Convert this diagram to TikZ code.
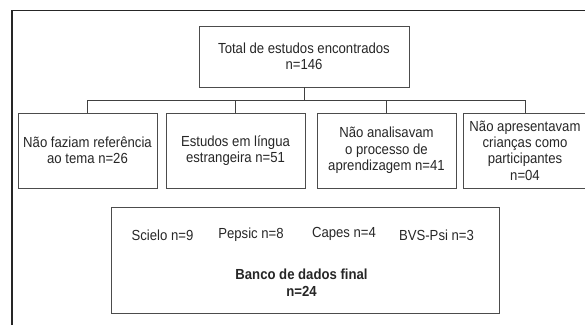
\documentclass[tikz,border=0pt]{standalone}
\usepackage{fontspec}
\setmainfont{Liberation Sans}[FakeStretch=0.9]
\usetikzlibrary{positioning}
\tikzset{
  caixa/.style={draw=black!70, line width=0.9pt, align=center, inner sep=0pt,
    text=black!85, font=\fontsize{14.6}{16.4}\selectfont},
  linha/.style={draw=black!75, line width=0.9pt},
  texto/.style={inner sep=0pt, align=center, text=black!85,
    font=\fontsize{14.6}{16.4}\selectfont}
}
\begin{document}
\begin{tikzpicture}[x=1pt,y=-1pt]
 \useasboundingbox (0,0) rectangle (585,325);
 \draw[black!85, line width=1.3pt] (12,325) -- (12,10.7) -- (585,10.7);
 \node [caixa, minimum width=210pt, minimum height=61pt] (total) at (304,56.5)
   {Total de estudos encontrados\\n=146};
 \node [caixa, minimum width=139pt, minimum height=75pt] (tema) at (87.5,150.5)
   {Não faziam referência\\ao tema n=26};
 \node [caixa, minimum width=139pt, minimum height=75pt] (lingua) at (235.5,150.5)
   {Estudos em língua\\estrangeira n=51};
 \node [caixa, minimum width=139pt, minimum height=75pt] (processo) at (386.5,150.5)
   {Não analisavam\\o processo de\\aprendizagem n=41};
 \node [caixa, minimum width=124pt, minimum height=75pt] (criancas) at (525,150.5)
   {Não apresentavam\\crianças como\\participantes\\n=04};
 \coordinate (bus) at (304,100);
 \draw [linha] (total) -- (bus);
 \foreach \b in {tema,lingua,processo,criancas}
   \draw [linha] (bus) -| (\b.north);
 \node [caixa, minimum width=388pt, minimum height=106pt] (banco) at (305,260) {};
 \node [texto] (scielo) at (162.5,235) {Scielo n=9};
 \node [texto] (pepsic) at (251,235) {Pepsic n=8};
 \node [texto] (capes) at (344,234) {Capes n=4};
 \node [texto] (bvs) at (436.5,235) {BVS-Psi n=3};
 \node [texto, font=\fontsize{14.6}{16.4}\selectfont\bfseries] (final) at (301.5,282.5)
   {Banco de dados final\\n=24};
\end{tikzpicture}
\end{document}
